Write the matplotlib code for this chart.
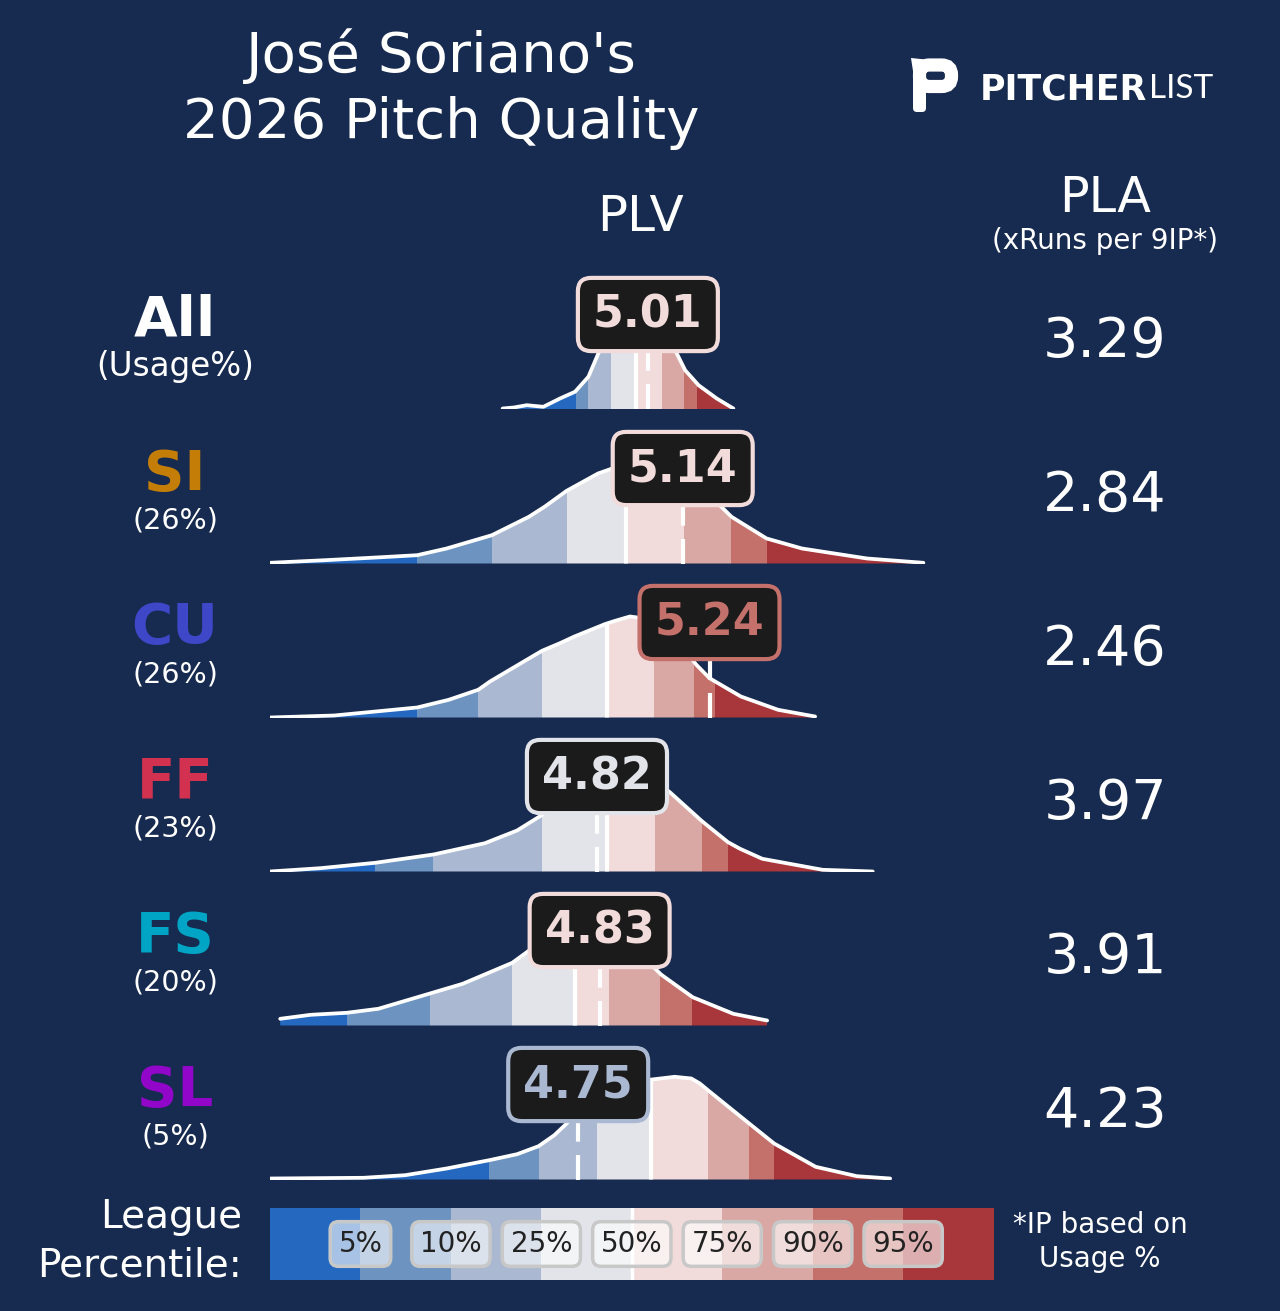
import numpy as np
import matplotlib
matplotlib.use("Agg")
import matplotlib.pyplot as plt
from matplotlib.patches import Polygon, Rectangle, FancyBboxPatch

# ---- data ----
pitches = ["All", "SI", "CU", "FF", "FS", "SL"]
pitch_colors = ["#FFFFFF", "#C47E08", "#3D47C8", "#D23250", "#00A4C4", "#9106C8"]
usage = [None, 26, 26, 23, 20, 5]
plv = [5.01, 5.14, 5.24, 4.82, 4.83, 4.75]
pla = [3.29, 2.84, 2.46, 3.97, 3.91, 4.23]

# density curves (PLV grid, relative height)
all_x = [4.468, 4.510, 4.558, 4.620, 4.682, 4.738, 4.788, 4.825, 4.869, 4.925,
         4.981, 5.037, 5.082, 5.118, 5.149, 5.199, 5.267, 5.329]
all_h = [0.01, 0.02, 0.043, 0.027, 0.11, 0.177, 0.327, 0.56, 0.80, 0.95,
         1.0, 0.93, 0.75, 0.56, 0.393, 0.243, 0.11, 0.01]
si_x = [3.60, 3.805, 4.010, 4.149, 4.259, 4.428, 4.566, 4.626, 4.707, 4.824,
        4.930, 5.018, 5.111, 5.204, 5.278, 5.322, 5.453, 5.585, 5.828, 6.038]
si_h = [0.007, 0.033, 0.062, 0.083, 0.15, 0.283, 0.467, 0.57, 0.727, 0.90,
        1.00, 1.02, 0.90, 0.73, 0.583, 0.467, 0.25, 0.15, 0.05, 0.007]
cu_x = [3.601, 3.839, 4.149, 4.267, 4.377, 4.421, 4.501, 4.615, 4.682, 4.736,
        4.849, 4.888, 4.943, 4.999, 5.074, 5.138, 5.191, 5.240, 5.357, 5.496,
        5.634]
cu_h = [0.0, 0.02, 0.10, 0.177, 0.277, 0.36, 0.487, 0.667, 0.743, 0.81,
        0.933, 0.967, 1.01, 0.99, 0.87, 0.70, 0.527, 0.393, 0.21, 0.077,
        0.01]
ff_x = [3.600, 3.788, 3.993, 4.210, 4.402, 4.522, 4.612, 4.682, 4.757, 4.831,
        4.906, 4.981, 5.037, 5.092, 5.212, 5.309, 5.354, 5.437, 5.662, 5.849]
ff_h = [0.0, 0.033, 0.087, 0.17, 0.283, 0.41, 0.56, 0.72, 0.86, 0.96,
        1.0, 0.97, 0.90, 0.793, 0.503, 0.293, 0.227, 0.127, 0.017, 0.0]
fs_x = [3.638, 3.752, 3.887, 4.004, 4.193, 4.319, 4.504, 4.584, 4.645, 4.719,
        4.794, 4.869, 4.943, 4.999, 5.059, 5.177, 5.329, 5.455]
fs_h = [0.067, 0.107, 0.127, 0.167, 0.317, 0.417, 0.627, 0.783, 0.88, 0.95,
        0.96, 0.90, 0.78, 0.67, 0.51, 0.283, 0.117, 0.05]
sl_x = [3.601, 3.949, 4.104, 4.259, 4.418, 4.522, 4.602, 4.661, 4.707, 4.775,
        4.850, 4.925, 4.981, 5.025, 5.110, 5.172, 5.204, 5.234, 5.388, 5.481,
        5.636, 5.790, 5.914]
sl_h = [0.01, 0.017, 0.043, 0.11, 0.193, 0.253, 0.333, 0.443, 0.56, 0.74,
        0.88, 0.96, 0.99, 1.0, 1.027, 1.01, 0.96, 0.893, 0.56, 0.36,
        0.127, 0.033, 0.01]

# league percentile cut points (5, 10, 25, 50, 75, 90, 95) per pitch type
all_q = [4.741, 4.788, 4.872, 4.964, 5.062, 5.145, 5.194]
si_q = [4.149, 4.428, 4.707, 4.930, 5.145, 5.322, 5.453]
cu_q = [4.149, 4.377, 4.615, 4.856, 5.031, 5.183, 5.259]
ff_q = [3.993, 4.210, 4.616, 4.857, 5.037, 5.212, 5.309]
fs_q = [3.887, 4.197, 4.504, 4.738, 4.866, 5.057, 5.175]
sl_q = [4.418, 4.602, 4.819, 5.020, 5.234, 5.388, 5.481]

pct_labels = ["5%", "10%", "25%", "50%", "75%", "90%", "95%"]
band_colors = ["#2468C0", "#6D93C1", "#AAB9D1", "#E3E4EA",
               "#F2DCDB", "#DAA8A4", "#C4706B", "#A8373B"]

curves = [(all_x, all_h, all_q), (si_x, si_h, si_q), (cu_x, cu_h, cu_q),
          (ff_x, ff_h, ff_q), (fs_x, fs_h, fs_q), (sl_x, sl_h, sl_q)]

# ---- layout ----
BG = "#172A4F"
W, H = 1280, 1311
fig = plt.figure(figsize=(W / 100, H / 100), dpi=100, facecolor=BG)


def fx(px):
    return px / W


def fy(py):
    return 1 - py / H


X0, X1 = 270, 993.6
XLIM = (3.6, 6.3)

# title + header
fig.text(fx(441), fy(89), "José Soriano's\n2026 Pitch Quality", color="white",
         fontsize=40.5, ha="center", va="center", linespacing=1.27)
fig.text(fx(640), fy(217), "PLV", color="white", fontsize=36, ha="center", va="center")
fig.text(fx(1105), fy(198), "PLA", color="white", fontsize=35.5, ha="center", va="center")
fig.text(fx(1105), fy(241), "(xRuns per 9IP*)", color="white", fontsize=20,
         ha="center", va="center")

# logo
lax = fig.add_axes([fx(900), fy(120), fx(70), 70 / H])
lax.set_xlim(900, 970)
lax.set_ylim(120, 50)
lax.axis("off")
lax.add_patch(FancyBboxPatch((913, 62), 13, 50, boxstyle="round,pad=0,rounding_size=4",
                             fc="white", ec="none"))
lax.add_patch(FancyBboxPatch((919.5, 65), 32, 21.5, boxstyle="round,pad=0,rounding_size=10",
                             fc="none", ec="white", lw=9.5))
lax.add_patch(Polygon([(911, 58), (940, 61), (940, 71), (913, 71)], closed=True,
                      fc="white", ec="none"))
fig.text(fx(980), fy(89), "PITCHER", color="white", fontsize=25, fontweight="bold",
         ha="left", va="center")
fig.text(fx(1149), fy(89), "LIST", color="white", fontsize=24, fontweight="normal",
         family=["Lato", "DejaVu Sans"], ha="left", va="center")

# rows
for i, (name, (xs, hs, qs)) in enumerate(zip(pitches, curves)):
    base = 409.5 + 154 * i
    ax = fig.add_axes([fx(X0), fy(base), fx(X1) - fx(X0), 140 / H])
    ax.set_xlim(*XLIM)
    ax.set_ylim(0, 1.4)
    ax.axis("off")

    verts = [(xs[0], 0)] + list(zip(xs, hs)) + [(xs[-1], 0)]
    poly = Polygon(verts, closed=True, fc="none", ec="none")
    ax.add_patch(poly)

    edges = [xs[0]] + qs + [xs[-1]]
    for j in range(len(band_colors)):
        r = Rectangle((edges[j], 0), edges[j + 1] - edges[j], 1.3,
                      fc=band_colors[j], ec="none")
        ax.add_patch(r)
        r.set_clip_path(poly)

    # league median, clipped to the curve
    med = ax.axvline(qs[3], 0, 1, color="white", lw=3)
    med.set_clip_path(poly)
    # pitcher value, runs up to the label box
    ax.plot([plv[i], plv[i]], [0, 0.62], color="white", lw=3, ls=(0, (6, 3.2)),
            solid_capstyle="butt", dash_capstyle="butt", zorder=2.5)

    ax.plot(xs, hs, color="white", lw=2.7, solid_joinstyle="round",
            solid_capstyle="round", zorder=3)

    c = band_colors[int(np.searchsorted(qs, plv[i]))]
    ax.text(plv[i], 0.95, f"{plv[i]:.2f}", color=c, fontsize=32, fontweight="bold",
            ha="center", va="center", clip_on=False, zorder=5,
            bbox=dict(boxstyle="round,pad=0.34,rounding_size=0.3", fc="#1B1B1B",
                      ec=c, lw=3))

    # left labels
    fig.text(fx(175), fy(base - 89), name, color=pitch_colors[i], fontsize=40.5,
             fontweight="bold", ha="center", va="center")
    sub = "(Usage%)" if usage[i] is None else f"({usage[i]}%)"
    fig.text(fx(175), fy(base - 43), sub, color="white",
             fontsize=23.5 if usage[i] is None else 20.5, ha="center", va="center")

    # PLA
    fig.text(fx(1105), fy(base - 68), f"{pla[i]:.2f}", color="white", fontsize=40,
             ha="center", va="center")

# percentile legend
gax = fig.add_axes([fx(X0), fy(1280), fx(X1) - fx(X0), 72 / H])
gax.set_xlim(0, len(band_colors))
gax.set_ylim(0, 1)
gax.axis("off")
for j, col in enumerate(band_colors):
    gax.add_patch(Rectangle((j, 0), 1, 1, fc=col, ec="none"))
gax.axvline(4, color="white", lw=2.5)
for j, lab in enumerate(pct_labels):
    gax.text(j + 1, 0.5, lab, color="#222222", fontsize=20, ha="center", va="center",
             bbox=dict(boxstyle="round,pad=0.3,rounding_size=0.3", fc=(1, 1, 1, 0.6),
                       ec="#C8C8C8", lw=2.5))

fig.text(fx(242), fy(1241), "League\nPercentile:", color="white", fontsize=28,
         ha="right", va="center", linespacing=1.35)
fig.text(fx(1100), fy(1242), "*IP based on\nUsage %", color="white", fontsize=20,
         ha="center", va="center", linespacing=1.25)

fig.savefig("out.png", dpi=100, facecolor=BG)
